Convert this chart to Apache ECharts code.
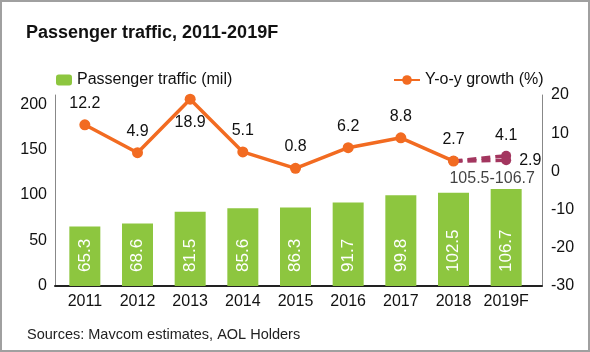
<!DOCTYPE html>
<html>
<head>
<meta charset="utf-8">
<script src="https://cdn.jsdelivr.net/npm/echarts@6/dist/echarts.min.js"></script>
<style>
  body { margin: 0; background: #fff; }
  #chart { width: 590px; height: 352px; }
  #frame { position: absolute; left: 0; top: 0; width: 590px; height: 352px;
           box-sizing: border-box; border: 2px solid #a0a0a0; pointer-events: none; }
</style>
</head>
<body>
<div id="chart"></div>
<div id="frame"></div>
<script>
// data
var years = ['2011', '2012', '2013', '2014', '2015', '2016', '2017', '2018', '2019F'];
var traffic = [65.3, 68.6, 81.5, 85.6, 86.3, 91.7, 99.8, 102.5, 106.7];
var growth = [12.2, 4.9, 18.9, 5.1, 0.8, 6.2, 8.8, 2.7];
var growthHigh = [null, null, null, null, null, null, null, 2.7, 4.1];
var growthLow = [null, null, null, null, null, null, null, 2.7, 2.9];
var rangeNote = [null, null, null, null, null, null, null, null, 106.7];
var rangeText = '105.5-106.7';
var leftTicks = [0, 50, 100, 150, 200];

var font = 'Liberation Sans, Arial, sans-serif';
var green = '#8dc63f', orange = '#f26b21', purple = '#a3365f';

var myChart = echarts.init(document.getElementById('chart'));
option = {
    animation: false,
    textStyle: { fontFamily: font },
    title: [{
        text: 'Passenger traffic, 2011-2019F',
        left: 21, top: 19,
        textStyle: { fontFamily: font, fontWeight: 'bold', fontSize: 18, color: '#111' }
    }, {
        text: 'Sources: Mavcom estimates, AOL Holders',
        left: 22, top: 322,
        textStyle: { fontFamily: font, fontWeight: 'normal', fontSize: 14.5, color: '#222' }
    }],
    legend: [{
        data: ['Passenger traffic (mil)'],
        left: 51, top: 67,
        itemWidth: 16, itemHeight: 11, itemGap: 6,
        textStyle: { fontSize: 16, color: '#111' }
    }, {
        data: ['Y-o-y growth (%)'],
        left: 388, top: 67,
        itemWidth: 26, itemHeight: 12,
        textStyle: { fontSize: 16, color: '#111' }
    }],
    grid: [
        { left: 58.5, right: 57.5, top: 95, bottom: 66 },
        { left: 55, right: 48, top: 95, bottom: 66 }
    ],
    xAxis: [{
        type: 'category',
        data: years,
        gridIndex: 0,
        axisLine: { show: false },
        axisTick: { show: false },
        axisLabel: { interval: 0, fontSize: 16, color: '#111', margin: 8 }
    }, {
        type: 'value',
        gridIndex: 1,
        min: 0, max: 1,
        axisLine: { show: true, onZero: false, lineStyle: { color: '#222', width: 2 } },
        axisTick: { show: false },
        axisLabel: { show: false },
        splitLine: { show: false }
    }],
    yAxis: [{
        type: 'value',
        gridIndex: 0,
        min: 0, max: 210, interval: 50,
        offset: 3.5,
        axisLine: { show: true, lineStyle: { color: '#888', width: 1 } },
        axisTick: { show: false },
        splitLine: { show: false },
        axisLabel: {
            fontSize: 16, color: '#111', margin: 8,
            formatter: function (v) { return leftTicks.indexOf(v) >= 0 ? v : ''; }
        }
    }, {
        type: 'value',
        gridIndex: 0,
        position: 'right',
        min: -30, max: 20, interval: 10,
        offset: 9.5,
        axisLine: { show: true, lineStyle: { color: '#888', width: 1 } },
        axisTick: { show: false },
        splitLine: { show: false },
        axisLabel: { fontSize: 16, color: '#111', margin: 9 }
    }, {
        type: 'value',
        gridIndex: 1,
        show: false
    }],
    series: [{
        name: 'Passenger traffic (mil)',
        type: 'bar',
        data: traffic,
        barWidth: 31,
        itemStyle: { color: green },
        label: {
            show: true,
            position: 'insideBottom',
            rotate: 90,
            align: 'left',
            verticalAlign: 'middle',
            distance: 14,
            fontSize: 17,
            color: '#fff'
        }
    }, {
        name: 'range',
        type: 'scatter',
        data: rangeNote,
        symbolSize: 0,
        label: {
            show: true,
            position: 'top',
            distance: 2,
            offset: [-14, 0],
            fontSize: 16,
            color: '#111',
            formatter: function () { return rangeText; }
        }
    }, {
        name: 'high',
        type: 'line',
        yAxisIndex: 1,
        data: growthHigh,
        symbol: 'circle',
        symbolSize: 10,
        lineStyle: { color: purple, width: 3.5, type: [9, 5] },
        itemStyle: { color: purple },
        label: { show: true, position: 'top', fontSize: 16, color: '#111', distance: 7,
            formatter: function (p) { return p.dataIndex == 8 ? p.value : ''; } }
    }, {
        name: 'low',
        type: 'line',
        yAxisIndex: 1,
        data: growthLow,
        symbol: 'circle',
        symbolSize: 10,
        lineStyle: { color: purple, width: 3.5, type: [9, 5] },
        itemStyle: { color: purple },
        label: { show: true, position: 'right', fontSize: 16, color: '#111', distance: 8,
            formatter: function (p) { return p.dataIndex == 8 ? p.value : ''; } }
    }, {
        name: 'Y-o-y growth (%)',
        type: 'line',
        yAxisIndex: 1,
        data: growth.map(function (v, i) {
            return i == 2 ? { value: v, label: { position: 'bottom', distance: 10 } } : v;
        }),
        symbol: 'circle',
        symbolSize: 11,
        lineStyle: { color: orange, width: 3.5 },
        itemStyle: { color: orange },
        label: { show: true, position: 'top', fontSize: 16, color: '#111', distance: 8 }
    }]
};
myChart.setOption(option);
</script>
</body>
</html>
